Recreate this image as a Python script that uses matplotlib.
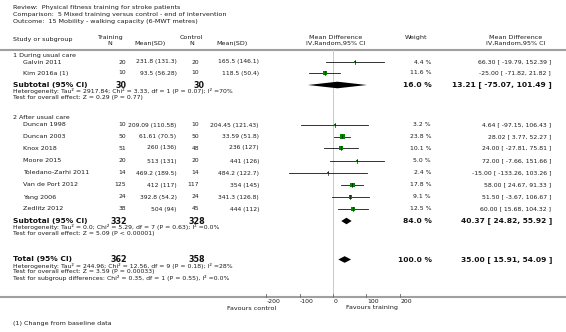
import matplotlib
matplotlib.use("Agg")
import matplotlib.pyplot as plt

# ---------------- data ----------------
studies = ["Galvin 2011", "Kim 2016a (1)", "Duncan 1998", "Duncan 2003", "Knox 2018",
           "Moore 2015", "Toledano-Zarhi 2011", "Van de Port 2012", "Yang 2006", "Zedlitz 2012"]
train_n = [20, 10, 10, 50, 51, 20, 14, 125, 24, 38]
train_msd = ["231.8 (131.3)", "93.5 (56.28)", "209.09 (110.58)", "61.61 (70.5)", "260 (136)",
             "513 (131)", "469.2 (189.5)", "412 (117)", "392.8 (54.2)", "504 (94)"]
ctrl_n = [20, 10, 10, 50, 48, 20, 14, 117, 24, 45]
ctrl_msd = ["165.5 (146.1)", "118.5 (50.4)", "204.45 (121.43)", "33.59 (51.8)", "236 (127)",
            "441 (126)", "484.2 (122.7)", "354 (145)", "341.3 (126.8)", "444 (112)"]
weights = [4.4, 11.6, 3.2, 23.8, 10.1, 5.0, 2.4, 17.8, 9.1, 12.5]
md = [66.30, -25.00, 4.64, 28.02, 24.00, 72.00, -15.00, 58.00, 51.50, 60.00]
ci_lo = [-19.79, -71.82, -97.15, 3.77, -27.81, -7.66, -133.26, 24.67, -3.67, 15.68]
ci_hi = [152.39, 21.82, 106.43, 52.27, 75.81, 151.66, 103.26, 91.33, 106.67, 104.32]

pooled_labels = ["Subtotal (95% CI)", "Subtotal (95% CI)", "Total (95% CI)"]
pooled_train_n = [30, 332, 362]
pooled_ctrl_n = [30, 328, 358]
pooled_weight = [16.0, 84.0, 100.0]
pooled_md = [13.21, 40.37, 35.00]
pooled_lo = [-75.07, 24.82, 15.91]
pooled_hi = [101.49, 55.92, 54.09]
pooled_notes = [
    ["Heterogeneity: Tau\u00b2 = 2917.84; Chi\u00b2 = 3.33, df = 1 (P = 0.07); I\u00b2 =70%",
     "Test for overall effect: Z = 0.29 (P = 0.77)"],
    ["Heterogeneity: Tau\u00b2 = 0.0; Chi\u00b2 = 5.29, df = 7 (P = 0.63); I\u00b2 =0.0%",
     "Test for overall effect: Z = 5.09 (P < 0.00001)"],
    ["Heterogeneity: Tau\u00b2 = 244.96; Chi\u00b2 = 12.56, df = 9 (P = 0.18); I\u00b2 =28%",
     "Test for overall effect: Z = 3.59 (P = 0.00033)",
     "Test for subgroup differences: Chi\u00b2 = 0.35, df = 1 (P = 0.55), I\u00b2 =0.0%"],
]
group_titles = ["1 During usual care", "2 After usual care"]
axis_ticks = [-200, -100, 0, 100, 200]
title_lines = ["Review:  Physical fitness training for stroke patients",
               "Comparison:  5 Mixed training versus control - end of intervention",
               "Outcome:  15 Mobility - walking capacity (6-MWT metres)"]

# ---------------- layout (pixel rows) ----------------
W, H = 566, 332
study_y = [62, 73, 125, 136.5, 148, 161, 173, 185, 197, 209]
group_y = [56, 117.5]
pooled_y = [85, 221, 259.5]
note_dy = 6.0
axis_y = 297

TXT = "#1a1a1a"
fs = 4.6
fs_num = 4.3
fs_small = 4.45
fs_bold = 5.4
GREEN = "#008800"

fig = plt.figure(figsize=(W / 100, H / 100), dpi=100)
ax = fig.add_axes([0, 0, 1, 1])
ax.set_xlim(0, W)
ax.set_ylim(H, 0)
ax.axis("off")

# forest axes: data units, 100 units = 33.33 px, zero at x=333
fx0, fx1 = 233, 433
fax = fig.add_axes([fx0 / W, 0, (fx1 - fx0) / W, 1])
fax.set_xlim(-300, 300)
fax.set_ylim(H, 0)
fax.axis("off")
fax.patch.set_alpha(0)

# title
for i, t in enumerate(title_lines):
    ax.text(13, 8 + i * 6.8, t, fontsize=fs, color=TXT, va="center", ha="left")

# headers
ax.text(13, 39, "Study or subgroup", fontsize=fs, color=TXT, va="center")
ax.text(110, 37.5, "Training", fontsize=fs, color=TXT, va="center", ha="center")
ax.text(110, 43.5, "N", fontsize=fs, color=TXT, va="center", ha="center")
ax.text(150, 43.5, "Mean(SD)", fontsize=fs, color=TXT, va="center", ha="center")
ax.text(191.5, 37.5, "Control", fontsize=fs, color=TXT, va="center", ha="center")
ax.text(191.5, 43.5, "N", fontsize=fs, color=TXT, va="center", ha="center")
ax.text(232, 43.5, "Mean(SD)", fontsize=fs, color=TXT, va="center", ha="center")
ax.text(336, 37.5, "Mean Difference", fontsize=fs, color=TXT, va="center", ha="center")
ax.text(336, 43.5, "IV,Random,95% CI", fontsize=fs, color=TXT, va="center", ha="center")
ax.text(416, 37.5, "Weight", fontsize=fs, color=TXT, va="center", ha="center")
ax.text(516, 37.5, "Mean Difference", fontsize=fs, color=TXT, va="center", ha="center")
ax.text(516, 43.5, "IV,Random,95% CI", fontsize=fs, color=TXT, va="center", ha="center")

# separator lines
ax.plot([0, W], [50, 50], color="#a0a0a0", lw=1.5, solid_capstyle="butt")
ax.plot([0, W], [axis_y, axis_y], color="#a0a0a0", lw=1.5, solid_capstyle="butt")

# zero line
fax.plot([0, 0], [50, axis_y], color="#c8c8c8", lw=0.7)

# groups
for gy, gt in zip(group_y, group_titles):
    ax.text(13, gy, gt, fontsize=fs, color=TXT, va="center")

# studies
for i, s in enumerate(studies):
    y = study_y[i]
    ax.text(23, y, s, fontsize=fs, color=TXT, va="center")
    ax.text(126, y, str(train_n[i]), fontsize=fs_num, color=TXT, va="center", ha="right")
    ax.text(176.5, y, train_msd[i], fontsize=fs_num, color=TXT, va="center", ha="right")
    ax.text(199, y, str(ctrl_n[i]), fontsize=fs_num, color=TXT, va="center", ha="right")
    ax.text(259, y, ctrl_msd[i], fontsize=fs_num, color=TXT, va="center", ha="right")
    ax.text(431, y, f"{weights[i]:.1f} %", fontsize=fs_small, color=TXT, va="center", ha="right")
    ax.text(551, y, f"{md[i]:.2f} [ {ci_lo[i]:.2f}, {ci_hi[i]:.2f} ]", fontsize=fs_small,
            color=TXT, va="center", ha="right")
    fax.plot([ci_lo[i], ci_hi[i]], [y, y], color="#111111", lw=0.6)
    side_px = 1.1 * weights[i] ** 0.5
    fax.scatter([md[i]], [y], marker="s", s=(side_px * 0.72) ** 2, color=GREEN,
                edgecolors="none", zorder=3)
    fax.plot([md[i], md[i]], [y - 1.6, y + 1.6], color="#111111", lw=0.5, zorder=4)

# pooled rows
for k in range(3):
    y = pooled_y[k]
    ax.text(13, y, pooled_labels[k], fontsize=fs_bold, color="#111111", va="center",
            fontweight="bold")
    ax.text(127, y, str(pooled_train_n[k]), fontsize=fs_bold + 0.4, color="#111111",
            va="center", ha="right", fontweight="bold")
    ax.text(205, y, str(pooled_ctrl_n[k]), fontsize=fs_bold + 0.4, color="#111111",
            va="center", ha="right", fontweight="bold")
    ax.text(432, y, f"{pooled_weight[k]:.1f} %", fontsize=fs_bold, color="#111111",
            va="center", ha="right", fontweight="bold")
    ax.text(552, y, f"{pooled_md[k]:.2f} [ {pooled_lo[k]:.2f}, {pooled_hi[k]:.2f} ]",
            fontsize=fs_bold, color="#111111", va="center", ha="right", fontweight="bold")
    h = 3.3
    fax.fill([pooled_lo[k], pooled_md[k], pooled_hi[k], pooled_md[k]],
             [y, y - h, y, y + h], color="black", lw=0, zorder=3)
    for j, note in enumerate(pooled_notes[k]):
        ax.text(13, y + 6.3 + j * note_dy, note, fontsize=fs_small, color=TXT, va="center")

# axis ticks
for t in axis_ticks:
    fax.plot([t, t], [axis_y - 3, axis_y], color="#666666", lw=0.6)
    fax.text(t + 1.5, axis_y + 4.5, f"{t}", fontsize=fs_small, color=TXT, va="center",
             ha="left")
ax.text(276, axis_y + 11, "Favours control", fontsize=fs, color=TXT, va="center", ha="right")
ax.text(346, axis_y + 11, "Favours training", fontsize=fs, color=TXT, va="center", ha="left")

ax.text(13, 324, "(1) Change from baseline data", fontsize=fs, color=TXT, va="center")

fig.savefig("out.png", dpi=100)
